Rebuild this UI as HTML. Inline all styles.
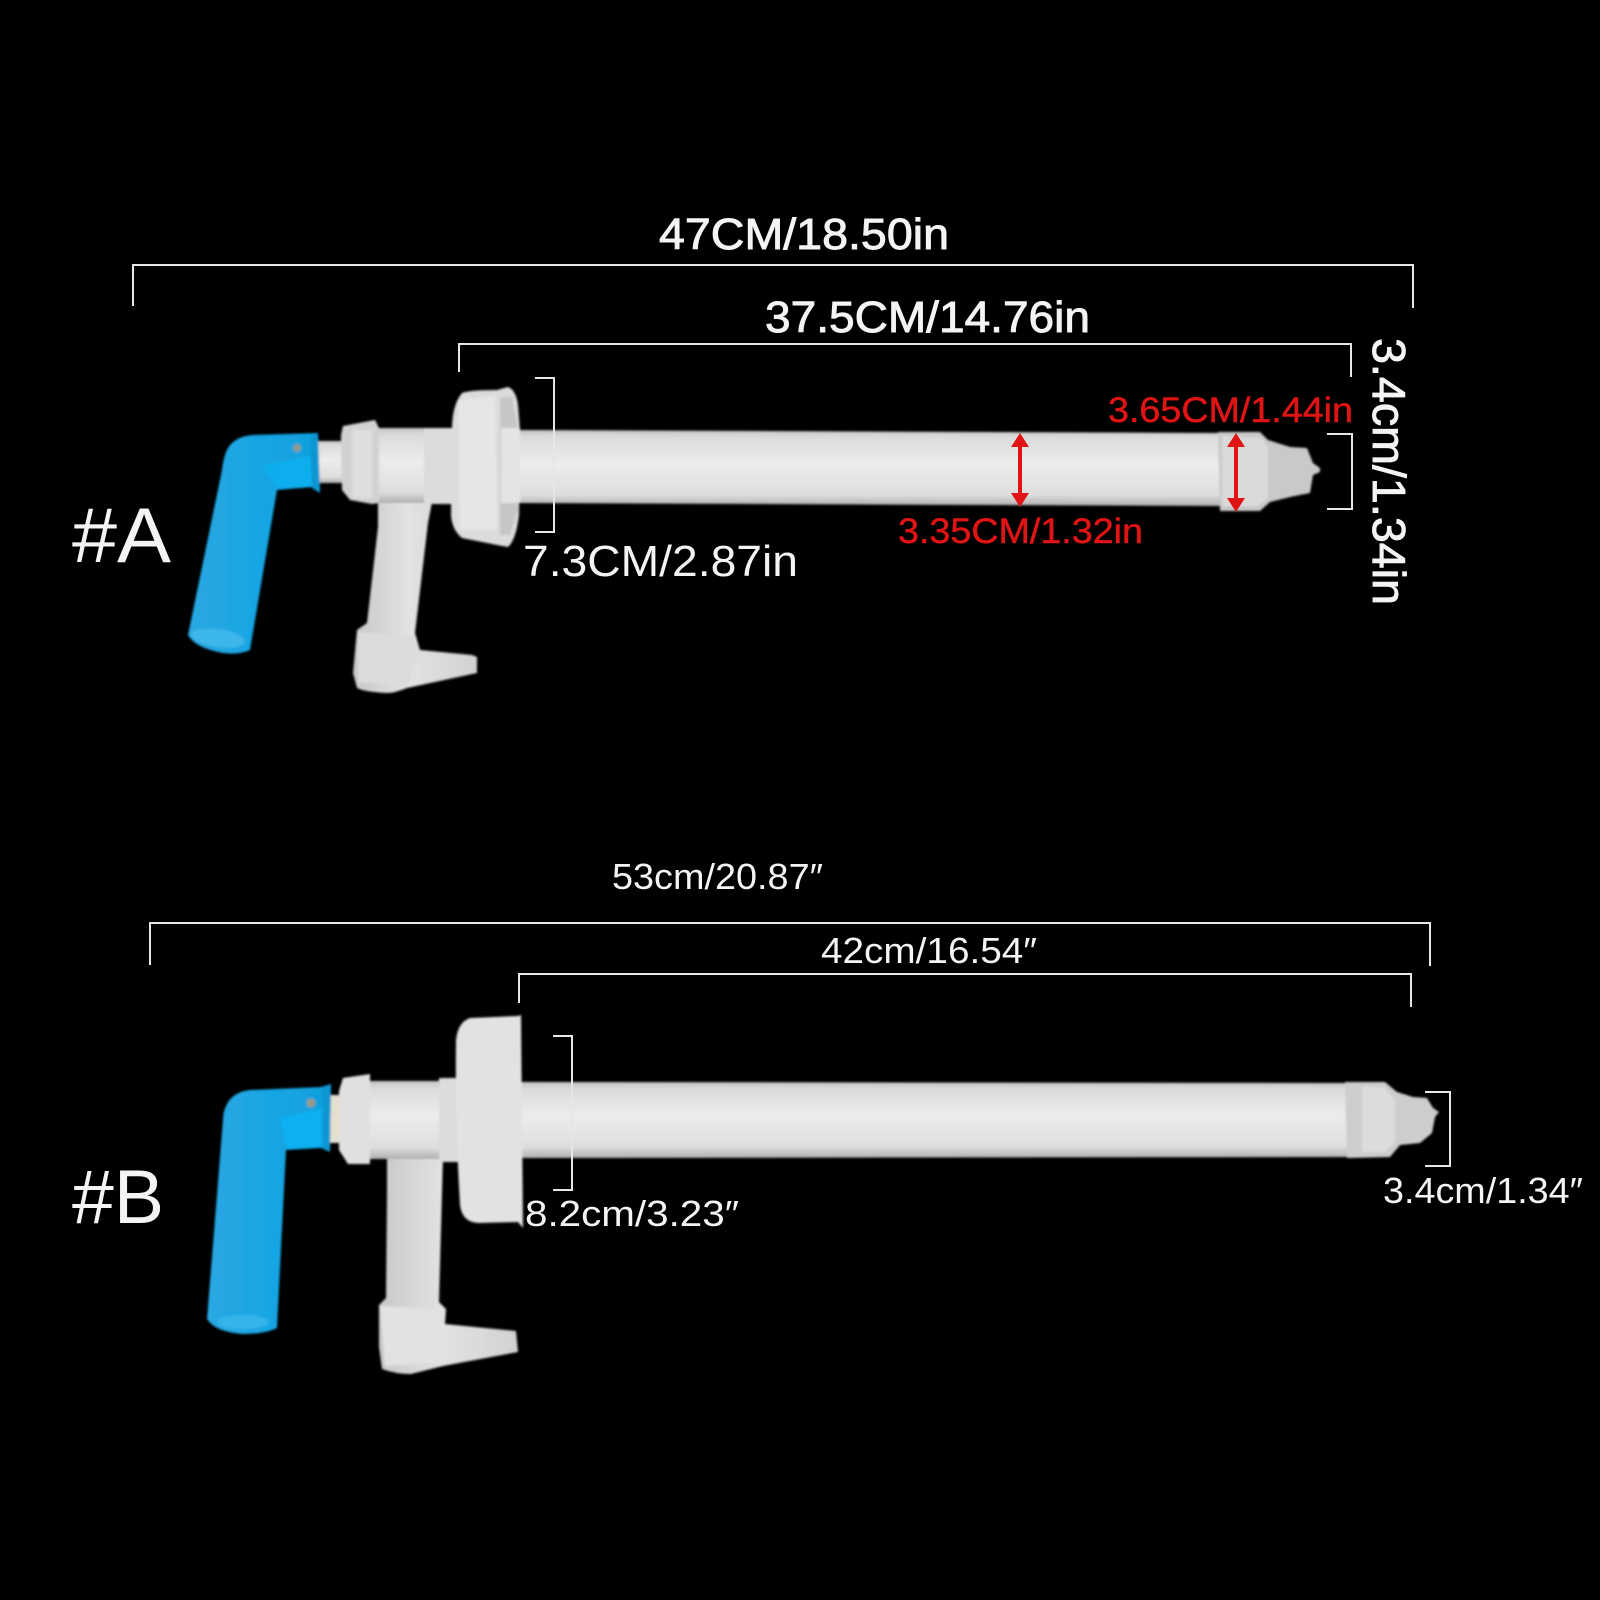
<!DOCTYPE html>
<html><head><meta charset="utf-8"><style>html,body{margin:0;padding:0;background:#000}svg{display:block}text{font-family:"Liberation Sans",sans-serif;fill:#f4f4f4}.sb{stroke:#f4f4f4;stroke-width:.9px}.r{fill:#e01414;stroke:#e01414;stroke-width:.5px}</style></head><body>
<svg width="1600" height="1600" viewBox="0 0 1600 1600" xmlns="http://www.w3.org/2000/svg">
<defs>
<linearGradient id="tube" x1="0" y1="0" x2="0" y2="1"><stop offset="0" stop-color="#c4c4c4"/><stop offset=".1" stop-color="#dcdcdc"/><stop offset=".45" stop-color="#ececec"/><stop offset=".85" stop-color="#dedede"/><stop offset="1" stop-color="#b0b0b0"/></linearGradient>
<linearGradient id="hand" x1="0" y1="0" x2="1" y2="0"><stop offset="0" stop-color="#c8c8c8"/><stop offset=".45" stop-color="#e2e2e2"/><stop offset="1" stop-color="#d2d2d2"/></linearGradient>
<linearGradient id="blue" x1="0" y1="0" x2="1" y2="0"><stop offset="0" stop-color="#2aa8e2"/><stop offset=".5" stop-color="#18a6e4"/><stop offset="1" stop-color="#0f9fdc"/></linearGradient>
<filter id="s" x="-5%" y="-5%" width="110%" height="110%"><feGaussianBlur stdDeviation="1"/></filter>
</defs>
<rect width="1600" height="1600" fill="#000"/>

<!-- A pump -->
<g filter="url(#s)">
<polygon points="517,430 1222,433 1222,506 517,503" fill="url(#tube)"/>
<polygon points="1218,432 1260,432 1268,440 1290,447 1307,448 1313,463 1320,468 1320,472 1313,475 1310,493 1290,497 1270,502 1260,511 1220,511" fill="#c9c9c9"/>
<polygon points="1222,436 1262,438 1268,448 1268,498 1258,506 1222,506" fill="#dadada"/>
<rect x="315" y="441" width="28" height="42" fill="url(#tube)"/>
<path d="M378 500 L432 502 L428 523 L415 633 L420 650 L472 655 L477 657 L477 673 L407 688 Q395 693 387 693 Q365 692 357 688 L353 673 L357 630 L367 623 L378 527 Z" fill="url(#hand)"/>
<polygon points="358,632 413,636 418,650 408,685 358,682" fill="#dcdcdc"/>
<rect x="374" y="428" width="82" height="75" fill="url(#tube)"/>
<path d="M343 426 L375 420 L379 428 L379 503 L372 504 L350 500 L342 490 L341 435 Z" fill="#d2d2d2"/>
<rect x="352" y="430" width="20" height="68" fill="#dedede"/>
<rect x="424" y="428" width="28" height="76" fill="#dcdcdc"/>
<path d="M462 393 Q470 390 497 390 L508 387 Q516 390 518 405 L520 430 L519 515 Q516 540 508 547 L497 545 L462 538 Q452 530 451 515 L452 430 Q452 405 462 393 Z" fill="#dcdcdc"/>
<polygon points="500,398 512,396 518,430 518,510 510,535 500,535" fill="#c6c6c6"/>
<rect x="501" y="428" width="19" height="75" fill="#e4e4e4"/>
<polygon points="458,400 495,396 497,530 460,530" fill="#e6e6e6"/>
<path d="M318 433 L252 435 Q232 437 226 452 Q223 460 222 470 L188 635 Q195 648 223 653 Q240 655 250 650 L277 490 L313 487 L320 493 Z" fill="url(#blue)"/>
<ellipse cx="218" cy="638" rx="27" ry="9" transform="rotate(8 218 638)" fill="#3cb6ea"/>
<polygon points="262,466 310,456 312,487 277,488" fill="#10aeee"/>
<polygon points="310,436 318,433 320,493 312,488" fill="#0d97d2"/>
<circle cx="297" cy="448" r="4" fill="#8f9a8f"/>
</g>

<!-- B pump -->
<g filter="url(#s)">
<polygon points="520,1082 1347,1083 1347,1157 520,1158" fill="url(#tube)"/>
<polygon points="1345,1082 1385,1082 1397,1092 1413,1097 1427,1098 1433,1108 1439,1112 1435,1117 1432,1133 1420,1143 1400,1145 1390,1157 1347,1158" fill="#cdcdcd"/>
<polygon points="1362,1086 1385,1088 1395,1100 1395,1142 1385,1152 1362,1152" fill="#dcdcdc"/>
<rect x="330" y="1095" width="14" height="48" fill="#e4e0d0"/>
<path d="M387 1157 L443 1157 L439 1302 L446 1309 L445 1324 L516 1331 L518 1352 L443 1366 L411 1374 Q395 1374 382 1369 L379 1347 L379 1305 L386 1298 L387 1195 Z" fill="url(#hand)"/>
<polygon points="380,1306 444,1310 444,1362 385,1366" fill="#e2e2e2"/>
<rect x="370" y="1081" width="90" height="78" fill="url(#tube)"/>
<rect x="439" y="1078" width="20" height="84" fill="#dcdcdc"/>
<path d="M343 1078 L370 1074 L370 1164 L348 1164 L339 1150 L339 1091 Z" fill="#e0e0e0"/>
<path d="M470 1018 L518 1016 L521 1015 L523 1228 L518 1222 L478 1223 Q462 1222 460 1205 Q455 1120 456 1040 Q458 1022 470 1018 Z" fill="#e2e2e2"/>
<path d="M331 1084 L321 1087 L250 1090 Q232 1092 226 1106 Q223 1112 223 1120 L207 1319 Q215 1332 243 1334 Q265 1334 277 1328 L286 1150 L321 1148 L330 1152 Z" fill="url(#blue)"/>
<ellipse cx="243" cy="1322" rx="26" ry="7" fill="#35b4ea"/>
<polygon points="280,1118 322,1108 322,1147 287,1149" fill="#0fb0f0"/>
<polygon points="322,1087 331,1084 330,1152 322,1148" fill="#0b97d2"/>
<circle cx="311" cy="1103" r="4.5" fill="#9a9a8a"/>
</g>

<!-- dimension brackets -->
<g fill="none" stroke="#e6e6e6" stroke-width="2">
<polyline points="133,306 133,265 1413,265 1413,308"/>
<polyline points="459,372 459,344 1351,344 1351,377"/>
<polyline points="535,378 554,378 554,532 535,532"/>
<polyline points="1327,434 1352,434 1352,509 1327,509"/>
<polyline points="150,965 150,923 1430,923 1430,966"/>
<polyline points="519,1003 519,974 1411,974 1411,1007"/>
<polyline points="553,1036 572,1036 572,1190 553,1190"/>
<polyline points="1425,1092 1450,1092 1450,1166 1425,1166"/>
</g>

<!-- red arrows -->
<g stroke="#e01414" stroke-width="4" fill="#e01414">
<line x1="1020" y1="440" x2="1020" y2="500"/>
<line x1="1236" y1="440" x2="1236" y2="505"/>
<polygon stroke="none" points="1020,433 1011,447 1029,447"/>
<polygon stroke="none" points="1020,507 1011,493 1029,493"/>
<polygon stroke="none" points="1236,433 1227,447 1245,447"/>
<polygon stroke="none" points="1236,512 1227,498 1245,498"/>
</g>

<!-- labels A -->
<text class="sb" x="659" y="249" font-size="44" textLength="290" lengthAdjust="spacingAndGlyphs">47CM/18.50in</text>
<text class="sb" x="765" y="332" font-size="44" textLength="325" lengthAdjust="spacingAndGlyphs">37.5CM/14.76in</text>
<text x="523" y="576" font-size="44" textLength="275" lengthAdjust="spacingAndGlyphs">7.3CM/2.87in</text>
<text x="72" y="562" font-size="78" textLength="99" lengthAdjust="spacingAndGlyphs">#A</text>
<text class="r" x="1108" y="422" font-size="35" textLength="245" lengthAdjust="spacingAndGlyphs">3.65CM/1.44in</text>
<text class="r" x="898" y="543" font-size="35" textLength="245" lengthAdjust="spacingAndGlyphs">3.35CM/1.32in</text>
<text class="sb" transform="translate(1373,338) rotate(90)" font-size="46" textLength="267" lengthAdjust="spacingAndGlyphs">3.4cm/1.34in</text>

<!-- labels B -->
<text x="612" y="889" font-size="36" textLength="211" lengthAdjust="spacingAndGlyphs">53cm/20.87″</text>
<text x="821" y="963" font-size="36" textLength="216" lengthAdjust="spacingAndGlyphs">42cm/16.54″</text>
<text x="525" y="1226" font-size="36" textLength="214" lengthAdjust="spacingAndGlyphs">8.2cm/3.23″</text>
<text x="1383" y="1203" font-size="36" textLength="200" lengthAdjust="spacingAndGlyphs">3.4cm/1.34″</text>
<text x="72" y="1223" font-size="76" textLength="92" lengthAdjust="spacingAndGlyphs">#B</text>
</svg>
</body></html>
